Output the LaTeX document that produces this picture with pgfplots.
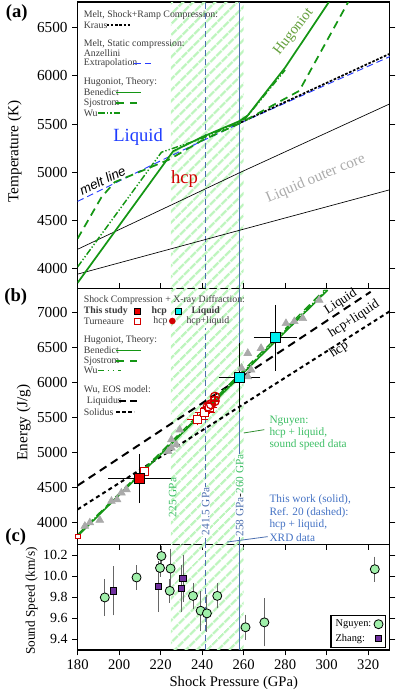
\documentclass[border=0pt]{standalone}
\usepackage{pgfplots}
\pgfplotsset{compat=1.18}
\usepackage{fontspec}
\setmainfont{Liberation Serif}
\setsansfont{Liberation Sans}
\usetikzlibrary{patterns.meta}

\definecolor{hug}{RGB}{20,150,20}
\definecolor{hatch}{RGB}{190,245,190}
\definecolor{vline}{RGB}{75,110,175}
\definecolor{meltblue}{RGB}{40,60,255}
\definecolor{liqblue}{RGB}{30,60,255}
\definecolor{hcpred}{RGB}{210,0,0}
\definecolor{huglab}{RGB}{100,160,60}
\definecolor{nguyentxt}{RGB}{60,190,100}
\definecolor{worktxt}{RGB}{68,114,196}
\definecolor{tri}{RGB}{170,170,170}
\definecolor{ngfill}{RGB}{160,240,170}
\definecolor{zhang}{RGB}{112,48,160}
\definecolor{legtxt}{RGB}{60,60,60}
\definecolor{liqcyan}{RGB}{0,240,240}
\definecolor{studyred}{RGB}{235,0,0}

\newcommand\legf{\fontsize{7.4}{8.5}\selectfont\color{legtxt}}

\tikzset{
  vdash/.style={vline, line width=1.1pt, dash pattern=on 4.5pt off 2.5pt},
  vsolid/.style={vline, line width=1.2pt},
  bened/.style={hug, line width=1.3pt},
  sjos/.style={hug, line width=1.3pt, dash pattern=on 6pt off 4pt},
  wu/.style={hug, line width=1.1pt, dash pattern=on 5pt off 1.5pt on 1pt off 1.5pt on 1pt off 1.5pt},
}

\pgfplotsset{
  panel/.style={
    scale only axis, width=235pt, xmin=180, xmax=330.5,
    /pgf/number format/assume math mode=true,
    /pgf/number format/set thousands separator={},
    tick align=outside, ytick pos=both,
    major tick length=4pt,
    major tick style={black, line width=0.6pt},
    axis line style={line width=0.8pt},
    yticklabel style={font=\fontsize{11.5}{13}\selectfont},
    xticklabel style={font=\fontsize{11}{13}\selectfont},
  },
  hatchband/.style={draw=none, pattern={Lines[angle=45,distance=6.5pt,line width=2.2pt]}, pattern color=hatch, forget plot},
}

\begin{document}
\begin{tikzpicture}
\begin{scope}[x=0.75pt,y=-0.75pt]
\useasboundingbox (0,0) rectangle (399,694);
\end{scope}

% ---------------- (a) temperature
\begin{axis}[panel, at={(57pt,-0.75pt)}, anchor=north west, height=215.6pt,
  ymin=3792, ymax=6766, ytick={4000,4500,...,6500}, xtick=\empty]
\addplot[hatchband] coordinates {(225,3792)(225,6766)(260,6766)(260,3792)} --cycle;
\addplot[vdash] coordinates {(241.5,3792)(241.5,6766)};
\addplot[vsolid] coordinates {(258,3792)(258,6766)};
% liquid outer core bounds
\addplot[black, line width=0.5pt] coordinates {(180,4200)(258,4994)(330.5,5710)};
\addplot[black, line width=0.5pt] coordinates {(180,3942)(258,4397)(330.5,4818)};
% melt curves
\addplot[meltblue, line width=0.7pt, dash pattern=on 5pt off 3pt] coordinates {(180,4697)(224,5160)(258,5507)(330.5,6200)};
\addplot[black, line width=1.3pt, dash pattern=on 2pt off 1.2pt] coordinates {(255,5480)(330.5,6230)};
% Hugoniots
\addplot[sjos] coordinates {(180,4311)(191.5,4741)(197.9,4897)(224,5130)(240,5330)(258,5505)(286.8,5844)(310.4,6766)};
\addplot[wu] coordinates {(180,4017)(220.4,5207)(240,5350)(258,5520)(261,5560)(280,6060)};
\addplot[bened] coordinates {(180,3852)(226,5217)(240,5365)(258,5530)(262,5590)(280,6086)(301.1,6766)};
\end{axis}

% ---------------- (b) energy
\begin{axis}[panel, at={(57pt,-216.4pt)}, anchor=north west, height=192.4pt,
  ymin=3691, ymax=7338, ytick={4000,4500,...,7000},
  xtick={180,200,...,320}, xticklabels={}, xtick pos=both]
\addplot[hatchband] coordinates {(225,3691)(225,7338)(260,7338)(260,3691)} --cycle;
\addplot[vdash] coordinates {(241.5,3691)(241.5,6775)};
\addplot[vsolid] coordinates {(258,3691)(258,7338)};
\addplot[black, line width=1.5pt, dash pattern=on 6pt off 4pt] coordinates {(180,4530)(321.2,7293)};
\addplot[black, line width=1.5pt, dash pattern=on 3pt off 2.5pt] coordinates {(180,4189)(330.5,7017)};
\addplot[tri, only marks, mark=triangle*, mark size=3.4pt] coordinates {
 (183.5,3951)(185.9,4000)(190.7,4037)(196.3,4307)(199,4330)(201.1,4426)(203.5,4473)
 (223.6,5018)(225.2,5066)(227.6,5113)(225.2,5184)(229.2,5326)(259,6204)(262,6084)
 (263.6,6180)(262,6417)(268.4,6488)(280.4,6843)(284.4,6870)(288.5,6915)(296.4,7175)};
\addplot[sjos, line width=1pt] coordinates {(180,3830)(299,7320)};
\addplot[wu, line width=1pt] coordinates {(180,3820)(300,7322)};
\addplot[bened, line width=1.1pt] coordinates {(180,3809)(300.5,7317)};
% Turneaure hcp
\addplot[hcpred, only marks, mark=square*, mark size=1.8pt, mark options={fill=white, line width=0.7pt}]
  coordinates {(180,3805)};
\addplot[hcpred, only marks, mark=square*, mark size=3pt, mark options={fill=white, line width=0.8pt},
  error bars/.cd, x dir=both, x explicit, y dir=both, y explicit,
  error bar style={hcpred, line width=0.6pt}, error mark options={hcpred, mark size=1.5pt}]
  coordinates {(212.3,4733)+-(0,0) (237.7,5475)+-(4,60) (241.3,5575)+-(4,60) (243.4,5640)+-(3,60)};
% Turneaure hcp+liquid
\addplot[hcpred, only marks, mark=o, mark size=3.5pt, mark options={fill=white, line width=0.9pt},
  error bars/.cd, x dir=both, x explicit, y dir=both, y explicit,
  error bar style={hcpred, line width=0.7pt}, error mark options={hcpred, mark size=0.8pt}]
  coordinates {(242.8,5660)+-(1.6,45) (244.3,5690)+-(1.6,45) (246,5735)+-(1.6,45) (246.2,5795)+-(1.6,45)};
% This study
\addplot[black, only marks, mark=square*, mark size=3.8pt, mark options={fill=studyred, line width=0.6pt},
  error bars/.cd, x dir=both, x explicit, y dir=both, y explicit,
  error bar style={black, line width=0.9pt}, error mark options={black, line width=0.9pt, mark size=3pt}]
  coordinates {(209.9,4630)+-(13.2,295)};
\addplot[black, only marks, mark=square*, mark size=3.8pt, mark options={fill=liqcyan, line width=0.6pt},
  error bars/.cd, x dir=both, x explicit, y dir=both, y explicit,
  error bar style={black, line width=0.9pt}, error mark options={black, line width=0.9pt, mark size=3pt}]
  coordinates {(258,6076)+-(8,435) (275.3,6639)+-(8.5,412)};
\end{axis}

% ---------------- (c) sound speed
\begin{axis}[panel, at={(57pt,-408.75pt)}, anchor=north west, height=79.5pt,
  ymin=9.295, ymax=10.305, ytick={9.4,9.6,...,10.21},
  yticklabel style={font=\fontsize{10.5}{12}\selectfont, /pgf/number format/fixed, /pgf/number format/precision=1, /pgf/number format/fixed zerofill},
  xtick={180,200,...,320}, xtick pos=bottom,
  xlabel={Shock Pressure (GPa)}, xlabel style={font=\fontsize{11}{13}\selectfont, yshift=2pt},
  legend style={at={(0.986,0.016)}, anchor=south east, draw=black, line width=0.8pt,
    font=\fontsize{7.8}{9}\selectfont, inner sep=1.5pt, row sep=0pt},
  legend cell align=left, legend plot pos=right]
\addplot[hatchband] coordinates {(225,9.295)(225,10.305)(260,10.305)(260,9.295)} --cycle;
\addplot[vdash, forget plot] coordinates {(241.5,9.295)(241.5,10.305)};
\addplot[vsolid, forget plot] coordinates {(258,9.295)(258,10.305)};
\addplot[black, only marks, mark=*, mark size=3.4pt, mark options={fill=ngfill, line width=0.6pt},
  error bars/.cd, y dir=both, y explicit,
  error bar style={black!60, line width=0.7pt}, error mark options={black!60, line width=0.7pt, mark size=2pt}]
  coordinates {
  (193.1,9.797)+-(0,0.153) (208.4,9.988)+-(0,0.09) (220.4,10.193)+-(0,0.07)
  (219.7,10.079)+-(0,0.06) (224.8,10.073)+-(0,0.166) (224.4,9.86)+-(0,0.09)
  (235.6,9.812)+-(0,0.1) (239.3,9.67)+-(0,0.165) (242.3,9.645)+-(0,0.15)
  (247.3,9.812)+-(0,0.095) (260.9,9.512)+-(0,0.095) (270,9.559)+-(0,0.205)
  (323.2,10.067)+-(0,0.095)};
\addlegendentry{Nguyen:}
\addplot[black, only marks, mark=square*, mark size=2.4pt, mark options={fill=zhang, line width=0.6pt},
  error bars/.cd, y dir=both, y explicit,
  error bar style={black!60, line width=0.7pt}, error mark options={black!60, line width=0.7pt, mark size=2pt}]
  coordinates {(197.2,9.86)+-(0,0.21) (218.8,9.902)+-(0,0.22) (230,9.883)+-(0,0.2) (230.8,9.978)+-(0,0.2)};
\addlegendentry{Zhang:}
\end{axis}

% ---------------- annotations (px coordinates)
\begin{scope}[x=0.75pt,y=-0.75pt]
% panel letters
\node[font=\bfseries\fontsize{14}{16}\selectfont] at (15,12) {(a)};
\node[font=\bfseries\fontsize{14}{16}\selectfont] at (14,297) {(b)};
\node[font=\bfseries\fontsize{14}{16}\selectfont] at (14,538) {(c)};
% y labels
\node[rotate=90, font=\fontsize{11.5}{13}\selectfont] at (13,151) {Temperature (K)};
\node[rotate=90, font=\fontsize{11.5}{13}\selectfont] at (22,423) {Energy (J/g)};
\node[rotate=90, font=\fontsize{10}{12}\selectfont] at (30,601.7) {Sound Speed (km/s)};

% legend (a)
\node[anchor=west, inner sep=0, font=\legf] at (82,14) {Melt, Shock+Ramp Compression:};
\node[anchor=west, inner sep=0, font=\legf] at (82,24) {Kraus};
\draw[black, line width=1.3pt, dash pattern=on 2pt off 1.2pt] (105,24) -- (130,24);
\node[anchor=west, inner sep=0, font=\legf] at (82,43.3) {Melt, Static compression:};
\node[anchor=west, inner sep=0, font=\legf] at (82,52.7) {Anzellini};
\node[anchor=west, inner sep=0, font=\legf] at (82,62.3) {Extrapolation};
\draw[meltblue, line width=0.7pt, dash pattern=on 5pt off 3pt] (132.7,62.3) -- (153,62.3);
\node[anchor=west, inner sep=0, font=\legf] at (82,81.7) {Hugoniot, Theory:};
\node[anchor=west, inner sep=0, font=\legf] at (82,91.7) {Benedict};
\draw[bened] (115,91.7) -- (140,91.7);
\node[anchor=west, inner sep=0, font=\legf] at (82,102.3) {Sjostrom};
\draw[sjos] (115,102.3) -- (136,102.3);
\node[anchor=west, inner sep=0, font=\legf] at (82,112.3) {Wu};
\draw[wu] (96.7,112.3) -- (120,112.3);

% labels (a)
\node[rotate=52, text=huglab, font=\fontsize{11}{13}\selectfont] at (293,31) {Hugoniot};
\node[text=liqblue, font=\fontsize{14}{16}\selectfont] at (136.7,136.7) {Liquid};
\node[text=hcpred, font=\fontsize{14}{16}\selectfont] at (183.3,178.3) {hcp};
\node[rotate=23, text=black!33, font=\fontsize{11.5}{13}\selectfont] at (315,178.3) {Liquid outer core};
\node[rotate=26, font=\sffamily\itshape\fontsize{10}{12}\selectfont] at (101,180) {melt line};

% legend (b)
\node[anchor=west, inner sep=0, font=\legf] at (82,300) {Shock Compression + X-ray Diffraction:};
\node[anchor=west, inner sep=0, font=\legf\bfseries] at (82,311) {This study};
\node[draw=black, fill=studyred, minimum size=4.5pt, inner sep=0, line width=0.5pt] at (136,311) {};
\node[anchor=west, inner sep=0, font=\legf\bfseries] at (150,311) {hcp};
\node[draw=black, fill=liqcyan, minimum size=4.5pt, inner sep=0, line width=0.5pt] at (177,311) {};
\node[anchor=west, inner sep=0, font=\legf\bfseries] at (190,311) {Liquid};
\node[anchor=west, inner sep=0, font=\legf] at (82,321) {Turneaure};
\node[draw=hcpred, fill=white, minimum size=4.5pt, inner sep=0, line width=0.7pt] at (136,321) {};
\node[anchor=west, inner sep=0, font=\legf] at (151.7,321) {hcp};
\node[circle, fill=hcpred, minimum size=5pt, inner sep=0] at (171,321) {};
\node[anchor=west, inner sep=0, font=\legf] at (185,321) {hcp+liquid};
\node[anchor=west, inner sep=0, font=\legf] at (82,340) {Hugoniot, Theory:};
\node[anchor=west, inner sep=0, font=\legf] at (82,350.7) {Benedict};
\draw[bened, line width=1pt] (115,350.7) -- (140,350.7);
\node[anchor=west, inner sep=0, font=\legf] at (82,361) {Sjostrom};
\draw[sjos, line width=1pt] (115,361) -- (136,361);
\node[anchor=west, inner sep=0, font=\legf] at (82,370.7) {Wu};
\draw[hug, line width=1pt, dash pattern=on 4pt off 3pt on 1pt off 3pt on 1pt off 3pt] (96.7,370.7) -- (120,370.7);
\node[anchor=west, inner sep=0, font=\legf] at (82,390) {Wu, EOS model:};
\node[anchor=west, inner sep=0, font=\legf] at (85,401) {Liquidus};
\draw[black, line width=1.3pt, dash pattern=on 5pt off 3pt] (118,401) -- (138,401);
\node[anchor=west, inner sep=0, font=\legf] at (82,412.3) {Solidus};
\draw[black, line width=1.3pt, dash pattern=on 2.5pt off 2pt] (115,412.3) -- (133,412.3);

% labels (b)
\node[rotate=33, font=\fontsize{10}{12}\selectfont] at (340,301.7) {Liquid};
\node[rotate=33, font=\fontsize{10}{12}\selectfont] at (353.3,319.3) {hcp+liquid};
\node[rotate=33, font=\fontsize{10}{12}\selectfont] at (338.3,350) {hcp};
\draw[black!40!green!60!gray, line width=0.6pt] (242.7,433.3) -- (263.3,430);
\node[anchor=west, inner sep=0, text=nguyentxt, font=\fontsize{8.5}{10}\selectfont] at (268.3,421.7) {Nguyen:};
\node[anchor=west, inner sep=0, text=nguyentxt, font=\fontsize{8.5}{10}\selectfont] at (268.3,433.3) {hcp + liquid,};
\node[anchor=west, inner sep=0, text=nguyentxt, font=\fontsize{8.5}{10}\selectfont] at (268.3,445) {sound speed data};
\node[rotate=90, text=nguyentxt, font=\fontsize{8.5}{10}\selectfont, inner sep=0.5pt] at (171.5,498) {225 GPa};
\node[rotate=90, text=vline, fill=white, font=\fontsize{8.5}{10}\selectfont, inner sep=0.5pt] at (204.5,512) {241.5 GPa};
\node[rotate=90, fill=white, font=\fontsize{8.5}{10}\selectfont, inner sep=0.5pt] at (238.5,496) {\textcolor{vline}{258 GPa}-\textcolor{nguyentxt}{260 GPa}};
\draw[vline, line width=0.6pt] (226,542.7) -- (266.7,537.3);
\node[anchor=west, inner sep=0, text=worktxt, font=\fontsize{8.5}{10}\selectfont] at (268.3,500) {This work (solid),};
\node[anchor=west, inner sep=0, text=worktxt, font=\fontsize{8.5}{10}\selectfont] at (268.3,513.3) {Ref. 20 (dashed):};
\node[anchor=west, inner sep=0, text=worktxt, font=\fontsize{8.5}{10}\selectfont] at (268.3,525) {hcp + liquid,};
\node[anchor=west, inner sep=0, text=worktxt, font=\fontsize{8.5}{10}\selectfont] at (268.3,538.3) {XRD data};
\end{scope}
\end{tikzpicture}
\end{document}
